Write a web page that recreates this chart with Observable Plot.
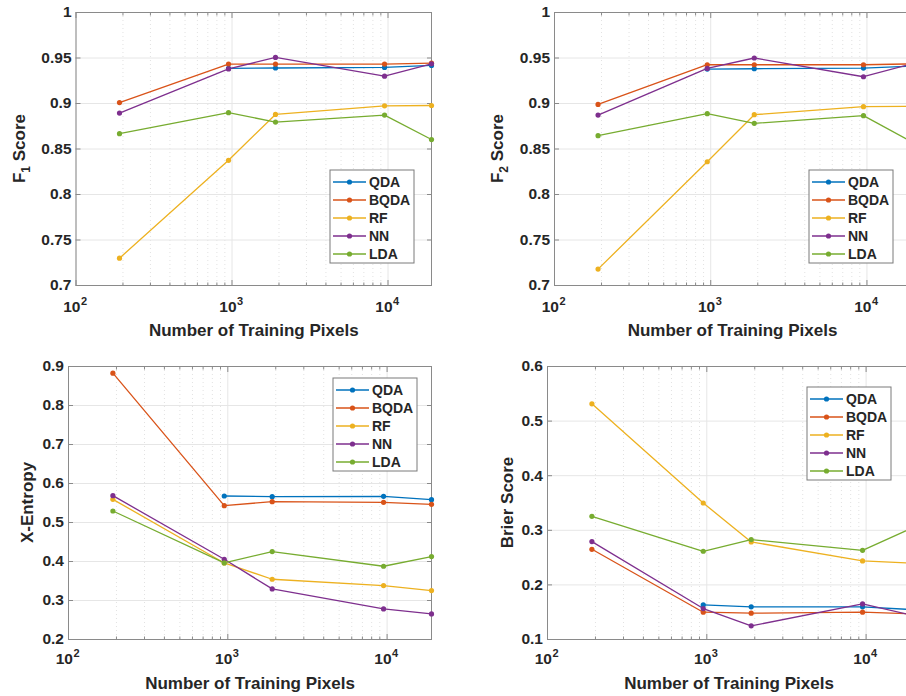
<!DOCTYPE html>
<html>
<head>
<meta charset="utf-8">
<script src="https://cdn.jsdelivr.net/npm/d3@7"></script>
<script src="https://cdn.jsdelivr.net/npm/@observablehq/plot@0.6"></script>
<style>
  html, body { margin: 0; padding: 0; background: #fff; }
  #wrap { position: relative; width: 906px; height: 696px; overflow: hidden; background: #fff; }
  #wrap > svg { position: absolute; }
</style>
</head>
<body>
<div id="wrap"></div>
<script>
// ---------- data ----------
const pixels = [190, 950, 1900, 9500, 19000];
const methods = ["QDA", "BQDA", "RF", "NN", "LDA"];
const colors = ["#0072BD", "#D95319", "#EDB120", "#7E2F8E", "#77AC30"];

const majorX = [100, 1000, 10000];
const minorX = [200, 300, 400, 500, 600, 700, 800, 900, 2000, 3000, 4000, 5000, 6000, 7000, 8000, 9000];

// F1 score
const f1QDA  = [null, 0.9385, 0.939, 0.9396, 0.9418];
const f1BQDA = [0.901, 0.9433, 0.9433, 0.9433, 0.9443];
const f1RF   = [0.730, 0.8376, 0.888, 0.8975, 0.8978];
const f1NN   = [0.8895, 0.938, 0.9506, 0.930, 0.9436];
const f1LDA  = [0.8668, 0.8899, 0.8796, 0.8873, 0.8604];
const f1Ticks = [0.7, 0.75, 0.8, 0.85, 0.9, 0.95, 1];

// F2 score
const f2QDA  = [null, 0.9378, 0.9382, 0.9389, 0.941];
const f2BQDA = [0.899, 0.9426, 0.9426, 0.9426, 0.9435];
const f2RF   = [0.718, 0.836, 0.8877, 0.8965, 0.8968];
const f2NN   = [0.8873, 0.9385, 0.950, 0.9294, 0.9432];
const f2LDA  = [0.8646, 0.8888, 0.8782, 0.8866, 0.8587];
const f2Ticks = [0.7, 0.75, 0.8, 0.85, 0.9, 0.95, 1];

// Cross entropy
const xeQDA  = [null, 0.568, 0.5662, 0.567, 0.5585];
const xeBQDA = [0.883, 0.5432, 0.5534, 0.5517, 0.5466];
const xeRF   = [0.5594, 0.3963, 0.3545, 0.3383, 0.3255];
const xeNN   = [0.5688, 0.4057, 0.3298, 0.2785, 0.2657];
const xeLDA  = [0.5295, 0.3963, 0.4254, 0.3878, 0.4126];
const xeTicks = [0.2, 0.3, 0.4, 0.5, 0.6, 0.7, 0.8, 0.9];

// Brier score
const brQDA  = [null, 0.1634, 0.1598, 0.1598, 0.155];
const brBQDA = [0.2652, 0.15, 0.1482, 0.15, 0.147];
const brRF   = [0.5317, 0.35, 0.2787, 0.2439, 0.240];
const brNN   = [0.2793, 0.1567, 0.125, 0.1652, 0.145];
const brLDA  = [0.3256, 0.2616, 0.283, 0.2634, 0.303];
const brTicks = [0.1, 0.2, 0.3, 0.4, 0.5, 0.6];

const xLabel = "Number of Training Pixels";

// ---------- drawing ----------
const FONT = "'Liberation Sans', Arial, Helvetica, sans-serif";
const INK = "#262626";
const AXIS = "#8a8a8a";

function panel(cfg) {
  const rows = [];
  methods.forEach((m, i) => cfg.series[i].forEach((v, j) => {
    if (v != null) rows.push({method: m, x: pixels[j], y: v});
  }));
  const yDomain = [cfg.ticks[0], cfg.ticks[cfg.ticks.length - 1]];
  const plot = Plot.plot({
    width: cfg.width, height: cfg.height,
    marginLeft: cfg.mL, marginRight: cfg.mR, marginTop: cfg.mT, marginBottom: cfg.mB,
    x: {type: "log", domain: [100, 19000], axis: null},
    y: {domain: yDomain, axis: null},
    color: {domain: methods, range: colors},
    style: {fontFamily: FONT, background: "#fff", overflow: "visible"},
    marks: [
      Plot.gridX(minorX, {stroke: "#e2e2e2", strokeOpacity: 1, strokeDasharray: "1,3"}),
      Plot.gridX(majorX, {stroke: "#e6e6e6", strokeOpacity: 1}),
      Plot.gridY(cfg.ticks, {stroke: "#e6e6e6", strokeOpacity: 1}),
      Plot.axisX(majorX, {anchor: "bottom", tickSize: -5, tickFormat: () => "", stroke: AXIS, label: null}),
      Plot.axisX(majorX, {anchor: "top", tickSize: -5, tickFormat: () => "", stroke: AXIS, label: null}),
      Plot.axisX(minorX, {anchor: "bottom", tickSize: -2.5, tickFormat: () => "", stroke: AXIS, label: null}),
      Plot.axisX(minorX, {anchor: "top", tickSize: -2.5, tickFormat: () => "", stroke: AXIS, label: null}),
      Plot.axisY(cfg.ticks, {anchor: "left", tickSize: -5, tickFormat: () => "", stroke: AXIS, label: null}),
      Plot.axisY(cfg.ticks, {anchor: "right", tickSize: -5, tickFormat: () => "", stroke: AXIS, label: null}),
      Plot.axisY(cfg.ticks, {anchor: "left", tickSize: 0, tickPadding: 4.5, tickFormat: d => `${d}`,
        fontSize: 15.5, fontWeight: "bold", fill: INK, label: null}),
      Plot.frame({stroke: AXIS}),
      Plot.line(rows, {x: "x", y: "y", z: "method", stroke: "method", strokeWidth: 1.3}),
      Plot.dot(rows, {x: "x", y: "y", fill: "method", r: 2.6}),
      Plot.text(majorX, {x: d => d, frameAnchor: "bottom", text: () => "10", textAnchor: "end",
        lineAnchor: "bottom", dx: 4.5, dy: cfg.tickDy, fontSize: 15.5, fontWeight: "bold", fill: INK}),
      Plot.text(majorX, {x: d => d, frameAnchor: "bottom", text: d => String(Math.round(Math.log10(d))),
        textAnchor: "start", lineAnchor: "bottom", dx: 5, dy: cfg.tickDy - 7, fontSize: 11, fontWeight: "bold", fill: INK}),
      Plot.text([xLabel], {frameAnchor: "bottom", text: d => d, lineAnchor: "bottom", dy: cfg.labelDy,
        fontSize: 17, fontWeight: "bold", fill: INK})
    ]
  });

  const svg = d3.select(plot);
  const frameH = cfg.height - cfg.mT - cfg.mB;

  // y label (with optional subscript)
  const yl = svg.append("text")
    .attr("transform", `translate(${cfg.mL - cfg.yLabOff},${cfg.mT + frameH / 2}) rotate(-90)`)
    .attr("text-anchor", "middle")
    .attr("font-family", FONT).attr("font-size", 17).attr("font-weight", "bold").attr("fill", INK);
  cfg.yLabel.forEach(part => {
    const t = yl.append("tspan").text(part.t);
    if (part.sub) t.attr("font-size", 12).attr("dy", 5);
    if (part.after) t.attr("dy", -5);
  });

  // legend
  const g = svg.append("g")
    .attr("transform", `translate(${cfg.mL + cfg.leg[0]},${cfg.mT + cfg.leg[1]})`);
  g.append("rect").attr("width", 84).attr("height", 93)
    .attr("fill", "#fff").attr("stroke", "#7a7a7a").attr("stroke-width", 1);
  methods.forEach((m, i) => {
    const y = 12 + 18 * i;
    g.append("line").attr("x1", 3).attr("x2", 36).attr("y1", y).attr("y2", y)
      .attr("stroke", colors[i]).attr("stroke-width", 1.6);
    g.append("circle").attr("cx", 19.5).attr("cy", y).attr("r", 2.6).attr("fill", colors[i]);
    g.append("text").attr("x", 39).attr("y", y).attr("dy", "0.36em")
      .attr("text-anchor", "start")
      .attr("font-family", FONT).attr("font-size", 14).attr("font-weight", "bold").attr("fill", INK)
      .text(m);
  });

  plot.style.left = cfg.left + "px";
  plot.style.top = cfg.top + "px";
  document.getElementById("wrap").appendChild(plot);
}

panel({series: [f1QDA, f1BQDA, f1RF, f1NN, f1LDA], ticks: f1Ticks,
  yLabel: [{t: "F"}, {t: "1", sub: true}, {t: " Score", after: true}],
  left: 0, top: 0, width: 453, height: 340, mL: 75.5, mR: 22, mT: 12, mB: 55,
  tickDy: 26, labelDy: 50, yLabOff: 50.5, leg: [254.5, 158]});

panel({series: [f2QDA, f2BQDA, f2RF, f2NN, f2LDA], ticks: f2Ticks,
  yLabel: [{t: "F"}, {t: "2", sub: true}, {t: " Score", after: true}],
  left: 453, top: 0, width: 470, height: 340, mL: 101, mR: 13, mT: 12, mB: 55,
  tickDy: 26, labelDy: 50, yLabOff: 51, leg: [255, 158]});

panel({series: [xeQDA, xeBQDA, xeRF, xeNN, xeLDA], ticks: xeTicks,
  yLabel: [{t: "X-Entropy"}],
  left: 0, top: 340, width: 453, height: 356, mL: 68, mR: 22, mT: 26, mB: 57,
  tickDy: 24.5, labelDy: 49, yLabOff: 35, leg: [265, 12]});

panel({series: [brQDA, brBQDA, brRF, brNN, brLDA], ticks: brTicks,
  yLabel: [{t: "Brier Score"}],
  left: 453, top: 340, width: 470, height: 356, mL: 94, mR: 13, mT: 26, mB: 57,
  tickDy: 24.5, labelDy: 49, yLabOff: 34, leg: [260, 21]});
</script>
</body>
</html>
